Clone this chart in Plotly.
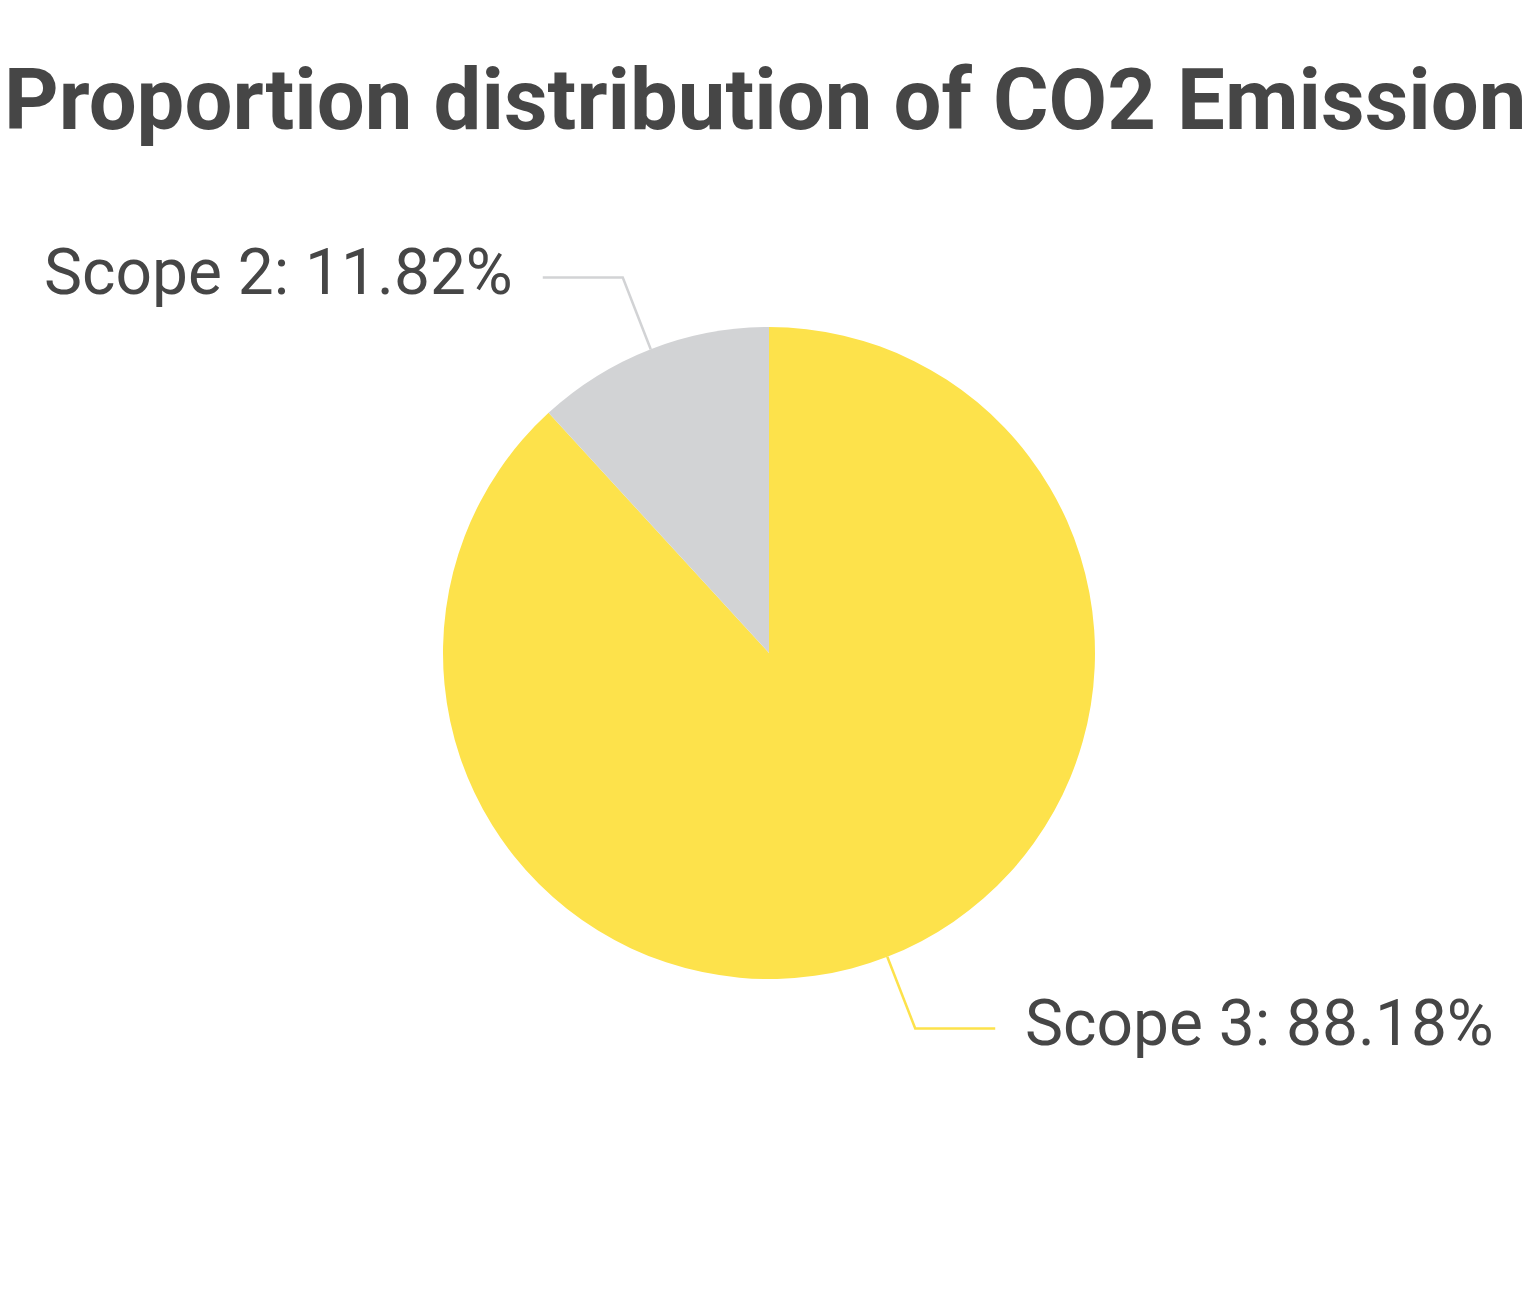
import math
import plotly.graph_objects as go


# scope shares in percent, as printed on the chart (clockwise from 12 o'clock)
labels = ['Scope 3', 'Scope 2']
shares = [88.18, 11.82]
colors = ['#fde24b', '#d2d3d5']
title = 'Proportion distribution of CO2 Emission'

W = 1536; H = 1306
off = 8                                 # page body margin, figure sits 8px in
cx = 769 - off; cy = 653 - off; rad = 326   # pie centre / radius in px
len1 = 77; len2 = 80; gap = 28         # leader line: radial part, flat part, text gap
font = 'Roboto'; txtC = '#464646'


def paper(px, py):
    return px / W, 1 - py / H


def leaders(vals):
    # mid-angle of each slice, clockwise from 12 o'clock (same as the pie trace)
    tot = sum(vals); acc = 0.0; out = []
    for v in vals:
        mid = (acc + v / 2) / tot * 2 * math.pi; acc += v
        ux = math.sin(mid); uy = -math.cos(mid)
        p0 = (cx + rad*ux, cy + rad*uy)
        p1 = (cx + (rad+len1)*ux, cy + (rad+len1)*uy)
        sgn = 1 if ux >= 0 else -1
        p2 = (p1[0] + sgn*len2, p1[1])
        out.append((p0, p1, p2, sgn))
    return out


fig = go.Figure()
fig.add_trace(go.Pie(labels=labels, values=shares, sort=False, direction='clockwise', rotation=0,
                     marker=dict(colors=colors, line=dict(width=0)), textinfo='none', hoverinfo='label+percent',
                     showlegend=False,
                     domain=dict(x=[(cx-rad)/W, (cx+rad)/W], y=[1-(cy+rad)/H, 1-(cy-rad)/H])))

shapes = []; annos = []
for (p0, p1, p2, sgn), lab, v, col in zip(leaders(shares), labels, shares, colors):
    a = paper(*p0); b = paper(*p1); c = paper(*p2)
    shapes.append(dict(type='path', xref='paper', yref='paper', line=dict(color=col, width=2.5),
                       path='M {} {} L {} {} L {} {}'.format(a[0], a[1], b[0], b[1], c[0], c[1])))
    tx, ty = paper(p2[0] + sgn*gap, p2[1] - 5)
    annos.append(dict(xref='paper', yref='paper', x=tx, y=ty, showarrow=False,
                      text='{}: {:.2f}%'.format(lab, v), xanchor='left' if sgn > 0 else 'right', yanchor='middle',
                      font=dict(family=font, size=64, color=txtC)))

# title as annotation so it can start at the very left edge like the reference
tx, ty = paper(2 - off, 100 - off)
annos.append(dict(xref='paper', yref='paper', x=tx, y=ty, showarrow=False, xanchor='left', yanchor='middle',
                  text='<b>{}</b>'.format(title), font=dict(family=font, size=85, color=txtC)))

fig.update_layout(width=W, height=H, margin=dict(l=0, r=0, t=0, b=0), paper_bgcolor='white',
                  shapes=shapes, annotations=annos)

fig.write_html('out.html')
